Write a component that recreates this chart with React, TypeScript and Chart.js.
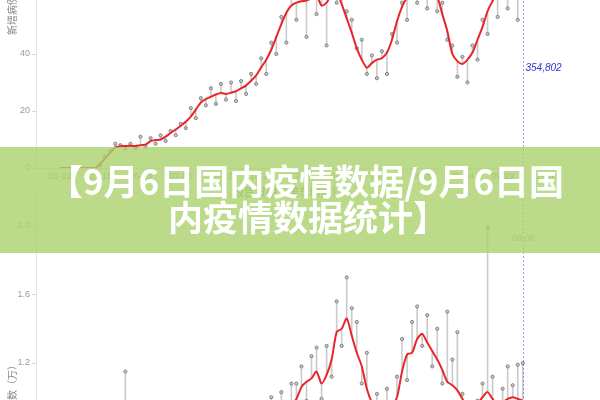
import React, { useEffect, useRef } from "react";
import { Chart, registerables } from "chart.js";

Chart.register(...registerables);

// ---------- data ----------
const topAverage = [
  0, 0, 0, 0, 0, 0, 0, 0, 1.5, 3.5,
  5.5, 7.2, 7.6, 7.7, 7.8, 7.7, 8.0, 8.2, 9.4, 9.8,
  10.0, 11.0, 12.3, 13.5, 14.8, 16.2, 18.0, 20.5, 23.0, 24.2,
  25.0, 25.8, 26.3, 26.0, 26.4, 27.0, 27.9, 29.0, 30.6, 32.5,
  35.3, 38.0, 41.5, 46.0, 50.5, 54.5, 57.0, 58.0, 58.5, 58.8,
  59.5, 60.5, 57.0, 58.0, 61.0, 61.5, 57.5, 52.5, 47.5, 42.0,
  38.0, 35.2, 36.8, 38.0, 38.5, 40.5, 45.0, 51.5, 56.5, 60.0,
  62.5, 63.5, 63.0, 62.5, 61.5, 60.0, 54.0, 48.0, 40.0, 37.5,
  36.5, 38.0, 40.5, 45.0, 49.5, 55.0, 58.6, 61.0, 62.5, 63.0,
  63.5, 63.0, 62.5,
];
const topDaily = [
  0, 0, 0, 0, 0, 0, 0, 0, 1.0, 4.0,
  6.0, 8.5, 8.0, 6.8, 8.5, 7.0, 11.0, 7.5, 10.5, 8.5,
  11.5, 9.5, 13.0, 11.5, 15.5, 14.0, 21.0, 17.5, 24.5, 22.0,
  28.0, 22.5, 29.5, 24.0, 30.0, 23.5, 30.5, 26.0, 33.0, 29.5,
  38.5, 33.0, 44.0, 40.0, 53.0, 44.0, 60.0, 52.0, 60.5, 46.0,
  63.0, 54.0, 62.0, 43.0, 64.0, 58.0, 63.0, 55.0, 52.0, 42.0,
  45.0, 33.0, 39.5, 31.5, 41.0, 33.0, 47.0, 44.0, 58.0, 52.0,
  64.0, 58.0, 66.0, 56.0, 64.0, 55.0, 58.0, 45.0, 43.0, 32.0,
  39.0, 30.0, 43.0, 38.0, 52.0, 47.0, 60.0, 53.0, 64.0, 56.0,
  65.0, 52.0, 64.0,
];
const bottomAverage = [
  0.10, 0.11, 0.12, 0.13, 0.14, 0.16, 0.18, 0.20, 0.22, 0.25,
  0.28, 0.30, 0.32, 0.34, 0.36, 0.38, 0.40, 0.42, 0.44, 0.45,
  0.46, 0.48, 0.50, 0.52, 0.54, 0.56, 0.58, 0.60, 0.62, 0.63,
  0.64, 0.66, 0.67, 0.68, 0.70, 0.71, 0.72, 0.74, 0.75, 0.77,
  0.78, 0.80, 0.83, 0.86, 0.89, 0.92, 0.95, 0.99, 1.06, 1.09,
  1.11, 1.15, 1.08, 1.13, 1.22, 1.38, 1.40, 1.46, 1.36, 1.26,
  1.18, 1.05, 0.97, 0.93, 0.92, 0.93, 0.95, 1.00, 1.15, 1.25,
  1.26, 1.34, 1.37, 1.32, 1.27, 1.22, 1.16, 1.09, 1.07, 1.04,
  0.99, 0.95, 0.94, 0.96, 1.00, 1.03, 0.99, 0.96, 0.97, 0.99,
  1.00, 0.99, 0.98,
];
const bottomDaily = [
  0.12, 0.08, 0.15, 0.10, 0.18, 0.14, 0.22, 0.17, 0.26, 0.21,
  0.33, 0.25, 0.36, 1.15, 0.40, 0.33, 0.45, 0.36, 0.49, 0.40,
  0.52, 0.42, 0.55, 0.46, 0.60, 0.49, 0.64, 0.53, 0.68, 0.56,
  0.70, 0.59, 0.74, 0.61, 0.77, 0.63, 0.80, 0.66, 0.82, 0.68,
  0.70, 0.92, 1.00, 0.82, 1.03, 0.96, 1.08, 1.08, 1.18, 0.98,
  1.24, 1.29, 0.99, 1.30, 1.12, 1.56, 1.30, 1.70, 1.52, 1.44,
  1.08, 1.26, 0.92, 1.02, 0.88, 1.05, 0.92, 1.12, 1.34, 1.10,
  1.44, 1.53, 1.30, 1.48, 1.18, 1.40, 1.08, 1.50, 1.22, 1.38,
  1.02, 0.96, 0.90, 0.98, 1.08, 1.99, 1.12, 0.97, 1.05, 1.18,
  1.07, 1.19, 1.20,
];
const tickIndex = [0, 8, 16, 24, 32, 40, 48, 56, 64, 72, 80, 88, 96];
const tickLabels = [
  "01-22", "03-18", "05-13", "07-08", "09-02", "10-28", "12-23",
  "02-17", "04-14", "06-09", "08-04", "09-29", "11-24",
];
const topYTicks = [0, 20, 40, 60, 80];
const bottomYTicks = [0, 0.4, 0.8, 1.2, 1.6, 2.0];
const latestIndex = 92;
const latestTotal = "354,802";
const latestDate = "09-08";
const topTitle = "新增病例数（千）";
const bottomTitle = "新增检测数（万）";
const xTitle = "报告日期（美东时间）";
const bannerLine1 = "【9月6日国内疫情数据/9月6日国";
const bannerLine2 = "内疫情数据统计】";

// ---------- helpers ----------
const X_MIN = -4.77;
const X_MAX = 99.4;
const TICK_FONT = { size: 9, family: "'Liberation Sans', Arial, sans-serif" };

const guidePlugin = {
  id: "guide",
  afterDatasetsDraw(chart: any, _args: any, opts: any) {
    const { ctx, scales } = chart;
    const px = Math.round(scales.x.getPixelForValue(opts.index)) + 0.5;
    ctx.save();
    ctx.setLineDash([2, 2]);
    ctx.strokeStyle = "rgba(90,90,235,0.6)";
    ctx.lineWidth = 1;
    ctx.beginPath();
    ctx.moveTo(px, 0);
    ctx.lineTo(px, chart.height);
    ctx.stroke();
    ctx.setLineDash([]);
    if (opts.text) {
      ctx.fillStyle = opts.color;
      ctx.font = opts.font;
      ctx.textAlign = opts.align;
      ctx.textBaseline = "middle";
      ctx.fillText(opts.text, px + opts.dx, scales.y.getPixelForValue(opts.value));
    }
    ctx.restore();
  },
};

function buildDatasets(avg: number[], daily: number[]) {
  return [
    {
      type: "line" as const,
      data: avg.map((v, i) => ({ x: i, y: v })),
      borderColor: "#e8262a",
      borderWidth: 2,
      pointRadius: 0,
      tension: 0.25,
      order: 0,
    },
    {
      type: "scatter" as const,
      data: daily
        .map((v, i) => ({ x: i, y: v }))
        .filter((p) => p.y !== 0),
      pointRadius: 1.6,
      backgroundColor: "#c9c9c9",
      borderColor: "#6f6f6f",
      borderWidth: 0.8,
      showLine: false,
      order: 1,
    },
    {
      type: "bar" as const,
      data: daily.map((v, i) => ({ x: i, y: [avg[i], v] })),
      backgroundColor: "rgba(185,185,185,0.75)",
      barThickness: 1,
      order: 2,
    },
  ];
}

function xScale(axisHeight: number) {
  return {
    type: "linear" as const,
    min: X_MIN,
    max: X_MAX,
    offset: false,
    afterBuildTicks: (s: any) => {
      s.ticks = tickIndex.map((v) => ({ value: v }));
    },
    ticks: {
      callback: (v: any) => {
        const k = tickIndex.indexOf(Number(v));
        return k >= 0 ? tickLabels[k] : "";
      },
      color: "#9a9a9a",
      font: TICK_FONT,
      maxRotation: 0,
      autoSkip: false,
      padding: 3,
    },
    grid: { display: false, drawTicks: false },
    border: { color: "#e2e2e2" },
    afterFit: (s: any) => {
      s.height = axisHeight;
    },
  };
}

function yScale(min: number, max: number, ticks: number[], digits: number) {
  return {
    min,
    max,
    afterBuildTicks: (s: any) => {
      s.ticks = ticks.map((v) => ({ value: v }));
    },
    ticks: {
      color: "#9a9a9a",
      font: TICK_FONT,
      padding: 2,
      callback: (v: any) => Number(v).toFixed(digits),
    },
    grid: { drawOnChartArea: false, tickLength: 4, color: "#d6d6d6" },
    border: { color: "#e2e2e2" },
    afterFit: (s: any) => {
      s.width = 36;
    },
  };
}

function TopChart() {
  const ref = useRef<HTMLCanvasElement>(null);
  useEffect(() => {
    const chart = new Chart(ref.current!, {
      type: "line",
      data: { datasets: buildDatasets(topAverage, topDaily) as any },
      plugins: [guidePlugin],
      options: {
        responsive: false,
        animation: false,
        devicePixelRatio: 1,
        layout: { padding: { top: 19, right: 40, left: 0, bottom: 0 } },
        scales: {
          x: xScale(23) as any,
          y: yScale(0, 80, topYTicks, 0) as any,
        },
        plugins: {
          legend: { display: false },
          tooltip: { enabled: false },
          guide: {
            index: latestIndex,
            text: latestTotal,
            color: "#3434d8",
            font: "italic 10px 'Liberation Sans', Arial, sans-serif",
            align: "left",
            dx: 2,
            value: 35,
          },
        } as any,
      },
    });
    return () => chart.destroy();
  }, []);
  return (
    <canvas
      ref={ref}
      width={600}
      height={270}
      style={{ position: "absolute", left: 0, top: -79, width: 600, height: 270 }}
    />
  );
}

function BottomChart() {
  const ref = useRef<HTMLCanvasElement>(null);
  useEffect(() => {
    const chart = new Chart(ref.current!, {
      type: "line",
      data: { datasets: buildDatasets(bottomAverage, bottomDaily) as any },
      plugins: [guidePlugin],
      options: {
        responsive: false,
        animation: false,
        devicePixelRatio: 1,
        layout: { padding: { top: 11.75, right: 40, left: 0, bottom: 0 } },
        scales: {
          x: xScale(11.5) as any,
          y: yScale(0, 2.2, bottomYTicks, 1) as any,
        },
        plugins: {
          legend: { display: false },
          tooltip: { enabled: false },
          guide: {
            index: latestIndex,
            text: latestDate,
            color: "#9a9a9a",
            font: "9px 'Liberation Sans', Arial, sans-serif",
            align: "center",
            dx: 0,
            value: 1.925,
          },
        } as any,
      },
    });
    return () => chart.destroy();
  }, []);
  return (
    <canvas
      ref={ref}
      width={600}
      height={400}
      style={{ position: "absolute", left: 0, top: 180, width: 600, height: 400 }}
    />
  );
}

const titleBase: React.CSSProperties = {
  position: "absolute",
  width: 120,
  height: 12,
  lineHeight: "12px",
  fontSize: 10,
  color: "#8a8a8a",
  whiteSpace: "nowrap",
  transformOrigin: "0 0",
  transform: "rotate(-90deg)",
  fontFamily: "'Noto Sans CJK SC', sans-serif",
};

export default function App() {
  return (
    <div
      style={{
        position: "fixed",
        left: 0,
        top: 0,
        width: 600,
        height: 400,
        overflow: "hidden",
        background: "#ffffff",
      }}
    >
      <TopChart />
      <BottomChart />
      <div style={{ ...titleBase, left: 6, top: 35, textAlign: "left" }}>{topTitle}</div>
      <div style={{ ...titleBase, left: 6, top: 480, textAlign: "right" }}>{bottomTitle}</div>
      <div
        style={{
          position: "absolute",
          left: 233,
          top: 183,
          fontSize: 11,
          color: "#8a8a8a",
          whiteSpace: "nowrap",
          fontFamily: "'Noto Sans CJK SC', sans-serif",
        }}
      >
        {xTitle}
      </div>
      <div
        style={{
          position: "absolute",
          left: 0,
          top: 147,
          width: 600,
          height: 106,
          background: "rgba(170,210,110,0.8)",
          color: "#ffffff",
          fontFamily: "'Noto Sans CJK SC', sans-serif",
          fontWeight: 700,
          fontSize: 35,
          lineHeight: "36px",
          textAlign: "center",
          boxSizing: "border-box",
          paddingTop: 15,
        }}
      >
        <div style={{ whiteSpace: "nowrap", marginLeft: 12 }}>{bannerLine1}</div>
        <div style={{ whiteSpace: "nowrap", marginLeft: 16 }}>{bannerLine2}</div>
      </div>
    </div>
  );
}
